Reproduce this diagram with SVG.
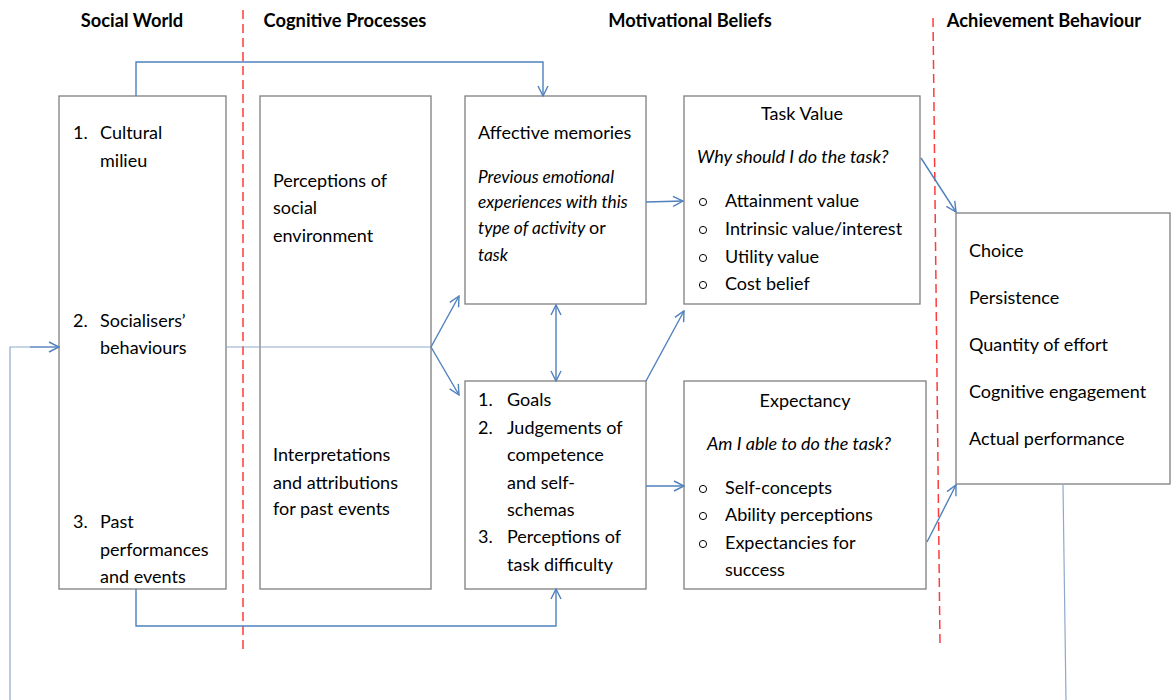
<svg xmlns="http://www.w3.org/2000/svg" width="1174" height="700" viewBox="0 0 1174 700">
  <style>
    text { font-family: Lato, "Liberation Sans", sans-serif; font-size: 18px; fill: #000; }
    .h { font-weight: bold; text-anchor: middle; font-size: 18.3px; }
    .it { font-style: italic; }
    .sm { font-size: 17.3px; }
    .mid { text-anchor: middle; }
    .box { fill: #fff; stroke: #7f7f7f; stroke-width: 1.3; }
    .bul { fill: none; stroke: #000; stroke-width: 1; }
    .sep { stroke: #ff3b3b; stroke-width: 1.5; stroke-dasharray: 9 5; fill: none; }
    .con { stroke: #4f81bd; stroke-width: 1.4; fill: none; }
    .thin { stroke: #8fa9cc; stroke-width: 1.2; fill: none; }
  </style>
  <defs>
    <marker id="arr" viewBox="0 0 12 12" refX="11" refY="6" markerWidth="12" markerHeight="12" markerUnits="userSpaceOnUse" orient="auto-start-reverse">
      <path d="M1,1 L11,6 L1,11" fill="none" stroke="#4f81bd" stroke-width="1.4"/>
    </marker>
  </defs>

  <rect width="1174" height="700" fill="#fff"/>

  <!-- column headings -->
  <g id="headings">
    <text class="h" x="132" y="27">Social World</text>
    <text class="h" x="345" y="27">Cognitive Processes</text>
    <text class="h" x="690" y="27">Motivational Beliefs</text>
    <text class="h" x="1044" y="27">Achievement Behaviour</text>
  </g>

  <!-- column separators -->
  <g id="separators">
    <line class="sep" x1="243" y1="10" x2="243" y2="652"/>
    <line class="sep" x1="933" y1="18" x2="940" y2="645"/>
  </g>

  <!-- Social World -->
  <g id="social-world">
    <rect class="box" x="59" y="96" width="167" height="493"/>
    <text x="73" y="139">1.</text><text x="100" y="139">Cultural</text>
    <text x="100" y="167">milieu</text>
    <text x="73" y="327">2.</text><text x="100" y="327">Socialisers’</text>
    <text x="100" y="354">behaviours</text>
    <text x="73" y="528">3.</text><text x="100" y="528">Past</text>
    <text x="100" y="556">performances</text>
    <text x="100" y="583">and events</text>
  </g>

  <!-- Cognitive Processes -->
  <g id="cognitive-processes">
    <rect class="box" x="260" y="96" width="171" height="493"/>
    <text x="273" y="187">Perceptions of</text>
    <text x="273" y="214">social</text>
    <text x="273" y="242">environment</text>
    <text x="273" y="461">Interpretations</text>
    <text x="273" y="489">and attributions</text>
    <text x="273" y="515">for past events</text>
  </g>

  <!-- Affective memories -->
  <g id="affective-memories">
    <rect class="box" x="465" y="96" width="181" height="208"/>
    <text x="478" y="139">Affective memories</text>
    <text class="it sm" x="478" y="183">Previous emotional</text>
    <text class="it sm" x="478" y="208">experiences with this</text>
    <text x="478" y="234"><tspan class="it sm">type of activity </tspan><tspan>or</tspan></text>
    <text class="it sm" x="478" y="261">task</text>
  </g>

  <!-- Task Value -->
  <g id="task-value">
    <rect class="box" x="684" y="96" width="236" height="208"/>
    <text class="mid" x="802" y="120">Task Value</text>
    <text class="it" x="697" y="163">Why should I do the task?</text>
    <circle class="bul" cx="703" cy="202" r="3.6"/><text x="725" y="207">Attainment value</text>
    <circle class="bul" cx="703" cy="230" r="3.6"/><text x="725" y="235">Intrinsic value/interest</text>
    <circle class="bul" cx="703" cy="258" r="3.6"/><text x="725" y="263">Utility value</text>
    <circle class="bul" cx="703" cy="285" r="3.6"/><text x="725" y="290">Cost belief</text>
  </g>

  <!-- Goals and self-schemas -->
  <g id="goals">
    <rect class="box" x="465" y="381" width="181" height="208"/>
    <text x="478" y="406">1.</text><text x="507" y="406">Goals</text>
    <text x="478" y="434">2.</text><text x="507" y="434">Judgements of</text>
    <text x="507" y="461">competence</text>
    <text x="507" y="489">and self-</text>
    <text x="507" y="516">schemas</text>
    <text x="478" y="543">3.</text><text x="507" y="543">Perceptions of</text>
    <text x="507" y="571">task difficulty</text>
  </g>

  <!-- Expectancy -->
  <g id="expectancy">
    <rect class="box" x="684" y="381" width="242" height="208"/>
    <text class="mid" x="805" y="407">Expectancy</text>
    <text class="it" x="707" y="450">Am I able to do the task?</text>
    <circle class="bul" cx="703" cy="489" r="3.6"/><text x="725" y="494">Self-concepts</text>
    <circle class="bul" cx="703" cy="516" r="3.6"/><text x="725" y="521">Ability perceptions</text>
    <circle class="bul" cx="703" cy="544" r="3.6"/><text x="725" y="549">Expectancies for</text>
    <text x="725" y="576">success</text>
  </g>

  <!-- Achievement Behaviour -->
  <g id="achievement-behaviour">
    <rect class="box" x="956" y="213" width="214" height="271"/>
    <text x="969" y="257">Choice</text>
    <text x="969" y="304">Persistence</text>
    <text x="969" y="351">Quantity of effort</text>
    <text x="969" y="398">Cognitive engagement</text>
    <text x="969" y="445">Actual performance</text>
  </g>

  <!-- connectors (drawn over the boxes) -->
  <g id="connectors">
    <polyline class="con" points="136,96 136,62 543,62 543,96" marker-end="url(#arr)"/>
    <polyline class="con" points="136,589 136,626 556,626 556,589" marker-end="url(#arr)"/>
    <polyline class="thin" points="10,700 10,347 30,347"/>
    <line class="con" x1="30" y1="347" x2="59" y2="347" marker-end="url(#arr)"/>
    <line class="thin" x1="226" y1="347" x2="431" y2="347"/>
    <line class="con" x1="431" y1="347" x2="459" y2="296" marker-end="url(#arr)"/>
    <line class="con" x1="431" y1="347" x2="459" y2="395" marker-end="url(#arr)"/>
    <line class="con" x1="556" y1="305" x2="556" y2="381" marker-start="url(#arr)" marker-end="url(#arr)"/>
    <line class="con" x1="646" y1="381" x2="684" y2="311" marker-end="url(#arr)"/>
    <line class="con" x1="646" y1="202" x2="683" y2="201" marker-end="url(#arr)"/>
    <line class="con" x1="921" y1="158" x2="956" y2="212" marker-end="url(#arr)"/>
    <line class="con" x1="646" y1="486" x2="684" y2="486" marker-end="url(#arr)"/>
    <line class="con" x1="927" y1="542" x2="956" y2="485" marker-end="url(#arr)"/>
    <line class="thin" x1="1063" y1="485" x2="1066" y2="700"/>
  </g>
</svg>
